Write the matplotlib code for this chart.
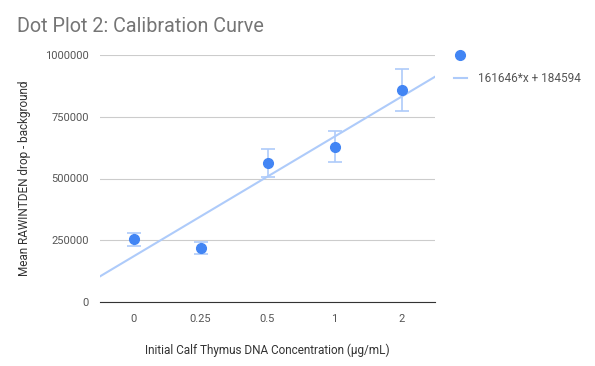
import matplotlib.pyplot as plt
import numpy as np

categories = ["0", "0.25", "0.5", "1", "2"]
means = [255000, 220000, 563000, 628000, 858000]
err_low = [28000, 26000, 57000, 61000, 85000]
err_high = [24000, 23000, 56000, 64000, 85000]
slope = 161646
intercept = 184594

plt.rcParams["font.family"] = ["Roboto", "DejaVu Sans"]

fig = plt.figure(figsize=(5.95, 3.66), dpi=100)
ax = fig.add_axes([100 / 595, 1 - 302 / 366, 335 / 595, 247 / 366])

x = np.arange(len(categories))
ax.errorbar(x, means, yerr=[err_low, err_high], fmt="none", ecolor="#aecbfa",
            elinewidth=1.2, capsize=5, capthick=1.2, zorder=2)
ax.plot(x, means, "o", color="#4285f4", markersize=7, label=" ", zorder=3)

xt = np.array([-0.5, 4.5])
ax.plot(xt, slope * xt + intercept, color="#aecbfa", linewidth=1.5,
        label="161646*x + 184594", zorder=1)

ax.set_xlim(-0.5, 4.5)
ax.set_ylim(0, 1000000)
ax.set_xticks(x)
ax.set_xticklabels(categories)
ax.set_yticks([0, 250000, 500000, 750000, 1000000])
ax.set_yticklabels(["0", "250000", "500000", "750000", "1000000"])
ax.tick_params(length=0, labelsize=8, colors="#555555", pad=8)
ax.tick_params(axis="x", pad=9)
ax.grid(axis="y", color="#cccccc", linewidth=0.8)
ax.set_axisbelow(True)
for s in ["top", "right", "left"]:
    ax.spines[s].set_visible(False)
ax.spines["bottom"].set_color("#333333")

ax.set_xlabel("Initial Calf Thymus DNA Concentration (µg/mL)", fontsize=8.5,
              color="#333333", labelpad=14)
ax.set_ylabel("Mean RAWINTDEN drop - background", fontsize=8.5,
              color="#333333", labelpad=10)
fig.text(17 / 595, 1 - 26 / 366, "Dot Plot 2: Calibration Curve", fontsize=14.2,
         color="#757575", va="center")

ax.legend(loc="upper left", bbox_to_anchor=(1.025, 1.066), frameon=False,
          fontsize=8.5, labelcolor="#555555", handlelength=1.1,
          handletextpad=0.9, labelspacing=0.8)

fig.savefig("out.png")
